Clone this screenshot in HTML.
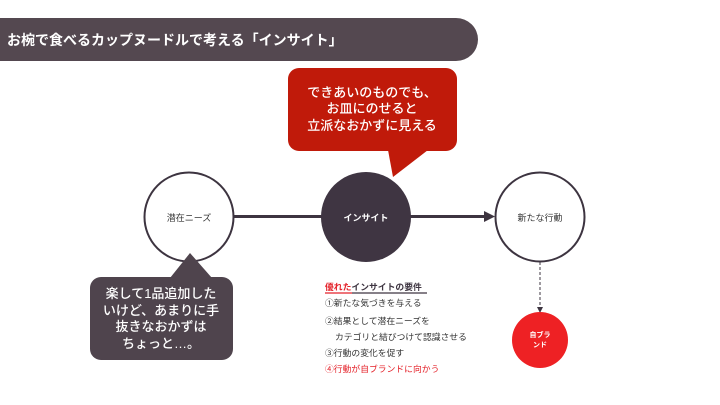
<!DOCTYPE html>
<html><head><meta charset="utf-8"><style>
html,body{margin:0;padding:0;background:#fff;}
svg{display:block;}
text{font-family:"Liberation Sans","Noto Sans CJK JP",sans-serif;}
</style></head><body>
<svg width="720" height="405" viewBox="0 0 720 405" xmlns="http://www.w3.org/2000/svg">
<path d="M0 18 H456 A22 21.5 0 0 1 456 61 H0 Z" fill="#544850"/>
<text x="7" y="45" font-size="14" font-weight="bold" fill="#fff">お椀で食べるカップヌードルで考える「インサイト」</text>

<line x1="234" y1="216.5" x2="486" y2="216.5" stroke="#3d3440" stroke-width="3"/>
<polygon points="484,211 495,216.5 484,222" fill="#3d3440"/>

<circle cx="189" cy="217" r="44.5" fill="#fff" stroke="#3d3440" stroke-width="2"/>
<text x="189" y="221" font-size="9" fill="#333" text-anchor="middle">潜在ニーズ</text>
<circle cx="366" cy="217" r="45" fill="#3f3542"/>
<text x="366" y="221" font-size="9" fill="#fff" text-anchor="middle" font-weight="bold">インサイト</text>
<circle cx="540" cy="217" r="44.5" fill="#fff" stroke="#3d3440" stroke-width="2"/>
<text x="540" y="221" font-size="9" fill="#333" text-anchor="middle">新たな行動</text>

<line x1="540" y1="262" x2="540" y2="307" stroke="#3d3440" stroke-width="1" stroke-dasharray="3,2"/>
<polygon points="537,307 540,313 543,307" fill="#3d3440"/>
<circle cx="540" cy="340" r="28" fill="#ee2124"/>
<text x="540" y="337" font-size="7" fill="#fff" text-anchor="middle" font-weight="bold">自ブラ</text>
<text x="540" y="347" font-size="7" fill="#fff" text-anchor="middle" font-weight="bold">ンド</text>

<rect x="288" y="68" width="169" height="83" rx="11" fill="#c01a0a"/>
<polygon points="388,150 393,177 428,150" fill="#c01a0a"/>
<g font-weight="500">
<text x="372" y="97" font-size="13" fill="#fff" text-anchor="middle">できあいのものでも、</text>
<text x="372" y="113" font-size="13" fill="#fff" text-anchor="middle">お皿にのせると</text>
<text x="372" y="130" font-size="13" fill="#fff" text-anchor="middle">立派なおかずに見える</text>
</g>

<polygon points="170,278 190,253 212,278" fill="#4f444d"/>
<rect x="90" y="277" width="143" height="83" rx="11" fill="#4f444d"/>
<g font-weight="500">
<text x="161" y="298" font-size="13" fill="#fff" text-anchor="middle">楽して1品追加した</text>
<text x="161" y="315" font-size="13" fill="#fff" text-anchor="middle">いけど、あまりに手</text>
<text x="161" y="331" font-size="13" fill="#fff" text-anchor="middle">抜きなおかずは</text>
<text x="161" y="348" font-size="13" fill="#fff" text-anchor="middle">ちょっと…。</text>
</g>

<text x="325" y="290" font-size="8.8" font-weight="bold"><tspan fill="#e4222a">優れた</tspan><tspan fill="#3d3440">インサイトの要件</tspan></text>
<line x1="325" y1="293" x2="352" y2="293" stroke="#e4222a" stroke-width="1.2"/>
<line x1="352" y1="293" x2="427" y2="293" stroke="#3d3440" stroke-width="1.2"/>
<text x="325" y="306" font-size="8.8" fill="#333">①新たな気づきを与える</text>
<text x="325" y="324" font-size="8.8" fill="#333">②結果として潜在ニーズを</text>
<text x="335" y="340" font-size="8.8" fill="#333">カテゴリと結びつけて認識させる</text>
<text x="325" y="356" font-size="8.8" fill="#333">③行動の変化を促す</text>
<text x="325" y="372" font-size="8.8" fill="#e4222a">④行動が自ブランドに向かう</text>
</svg>
</body></html>
